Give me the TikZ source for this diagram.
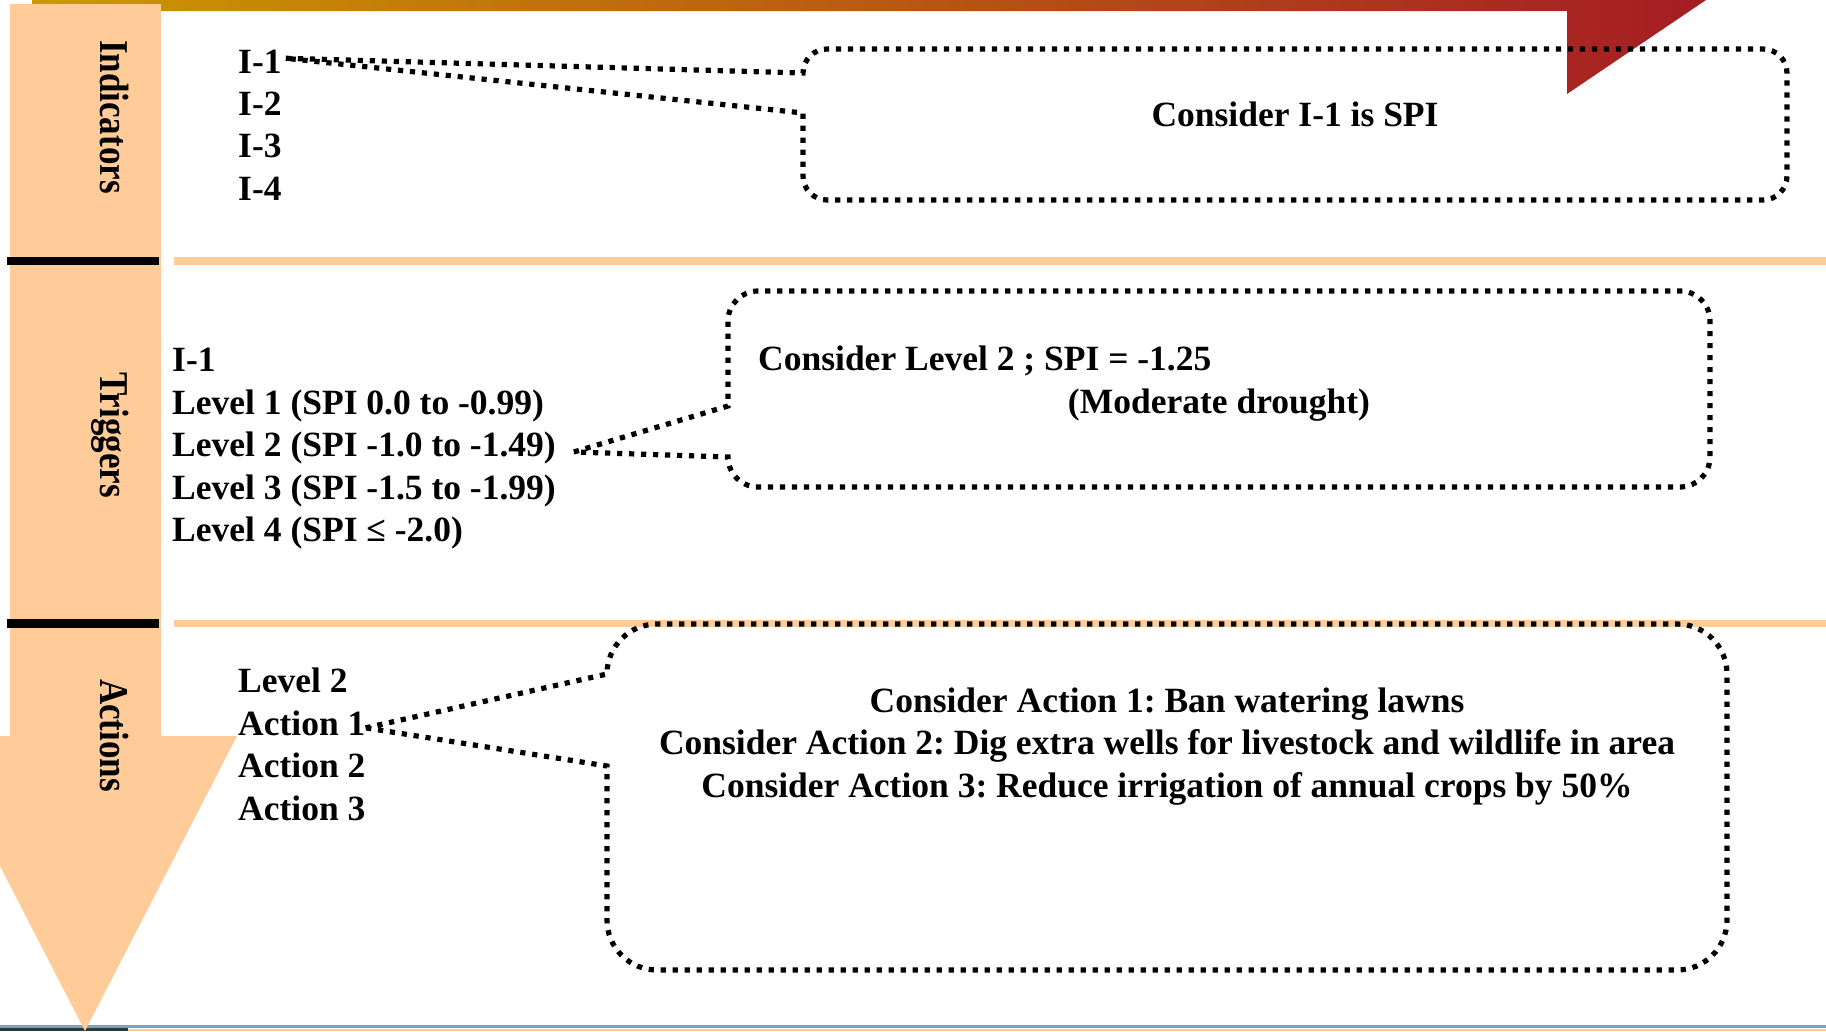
\documentclass[tikz,border=0pt]{standalone}
\usepackage{fontspec}
\setmainfont{Liberation Serif}
\usepackage{graphicx}
\definecolor{peach}{RGB}{255,204,153}
\definecolor{gold}{RGB}{204,153,0}
\definecolor{barmid}{RGB}{196,118,22}
\definecolor{barred}{RGB}{165,28,36}
\definecolor{footblue}{RGB}{130,160,190}
\definecolor{footdark}{RGB}{40,60,60}
\frenchspacing
\begin{document}
\begin{tikzpicture}[x=1pt,y=-1pt,
  txt/.style={font=\fontsize{35.5}{42.5}\selectfont\bfseries, inner sep=0pt, anchor=base west},
  ctxt/.style={font=\fontsize{35.5}{42.5}\selectfont\bfseries, inner sep=0pt, anchor=base},
  vlabel/.style={font=\fontsize{35}{42.5}\selectfont\bfseries, inner sep=0pt, anchor=base, rotate=-90},
  callout/.style={draw=black, line width=5.2pt, dash pattern=on 5.2pt off 6.8pt, line join=miter},
]
\useasboundingbox (0,0) rectangle (1826,1031);
\clip (0,0) rectangle (1826,1031);
\fill[white] (0,0) rectangle (1826,1031);

% top bar
\shade[left color=gold, middle color=barmid, right color=barred] (32,0) -- (1706,0) -- (1567,94) -- (1567,11) -- (32,11) -- cycle;

% footer
\fill[footblue] (0,1025) rectangle (1826,1027.5);
\fill[footdark] (0,1028) rectangle (128,1031);
\fill[peach] (128,1028.5) rectangle (1826,1031);

% column and arrow
\fill[peach] (10,4) rectangle (161,737);
\fill[peach] (-67,736) -- (237,736) -- (85,1031) -- cycle;

% separators
\fill[black] (7,257) rectangle (159,265);
\fill[peach] (174,257) rectangle (1826,265);
\fill[black] (7,619) rectangle (159,628);
\fill[peach] (174,620) rectangle (1826,627);

% vertical labels
\node[vlabel] (lind) at (100,117) {\scalebox{1}[1.17]{Indicators}};
\node[vlabel] (ltrig) at (100,435) {\scalebox{1}[1.17]{Triggers}};
\node[vlabel] (lact) at (100,735.5) {\scalebox{1}[1.17]{Actions}};

% indicators list
\node[txt] (i1) at (238,73) {I-1};
\node[txt] (i2) at (238,115.3) {I-2};
\node[txt] (i3) at (238,157.6) {I-3};
\node[txt] (i4) at (238,200) {I-4};

% triggers list
\node[txt] (t0) at (172,371.5) {I-1};
\node[txt] (t1) at (172,414) {Level 1 (SPI 0.0 to -0.99)};
\node[txt] (t2) at (172,456.5) {Level 2 (SPI -1.0 to -1.49)};
\node[txt] (t3) at (172,499) {Level 3 (SPI -1.5 to -1.99)};
\node[txt] (t4) at (172,541.5) {Level 4 (SPI ≤ -2.0)};

% actions list
\node[txt] (a0) at (238,692.5) {Level 2};
\node[txt] (a1) at (238,735) {Action 1};
\node[txt] (a2) at (238,777.5) {Action 2};
\node[txt] (a3) at (238,820) {Action 3};

% callout texts
\node[ctxt] (c1) at (1295,126) {Consider I-1 is SPI};
\node[txt] (c2a) at (758,370) {Consider Level 2 ; SPI = -1.25};
\node[ctxt] (c2b) at (1219,413) {(Moderate drought)};
\node[ctxt] (c3a) at (1167,712) {Consider Action 1: Ban watering lawns};
\node[ctxt] (c3b) at (1167,754.5) {Consider Action 2: Dig extra wells for livestock and wildlife in area};
\node[ctxt] (c3c) at (1167,797) {Consider Action 3: Reduce irrigation of annual crops by 50\%};

% callout tips
\coordinate (tip1) at ([xshift=4pt,yshift=3pt]i1.east);
\coordinate (tip2) at ([xshift=18pt,yshift=-4pt]t2.east);
\coordinate (tip3) at ([xshift=0pt,yshift=-5pt]a1.east);

% callout 1
\draw[callout] (tip1) -- (803,73)
  .. controls (803,59.8) and (813.8,49) .. (827,49) -- (1763,49)
  .. controls (1776.2,49) and (1787,59.8) .. (1787,73) -- (1787,176)
  .. controls (1787,189.2) and (1776.2,200) .. (1763,200) -- (827,200)
  .. controls (813.8,200) and (803,189.2) .. (803,176) -- (803,113) -- cycle;

% callout 2
\draw[callout] (tip2) -- (728,406) -- (728,321)
  .. controls (728,304.4) and (741.4,291) .. (758,291) -- (1680,291)
  .. controls (1696.6,291) and (1710,304.4) .. (1710,321) -- (1710,457)
  .. controls (1710,473.6) and (1696.6,487) .. (1680,487) -- (758,487)
  .. controls (741.4,487) and (728,473.6) .. (728,457) -- cycle;

% callout 3
\draw[callout] (tip3) -- (607,674)
  .. controls (607,646.4) and (629.4,624) .. (657,624) -- (1677,624)
  .. controls (1704.6,624) and (1727,646.4) .. (1727,674) -- (1727,920)
  .. controls (1727,947.6) and (1704.6,970) .. (1677,970) -- (657,970)
  .. controls (629.4,970) and (607,947.6) .. (607,920) -- (607,766) -- cycle;
\end{tikzpicture}
\end{document}
